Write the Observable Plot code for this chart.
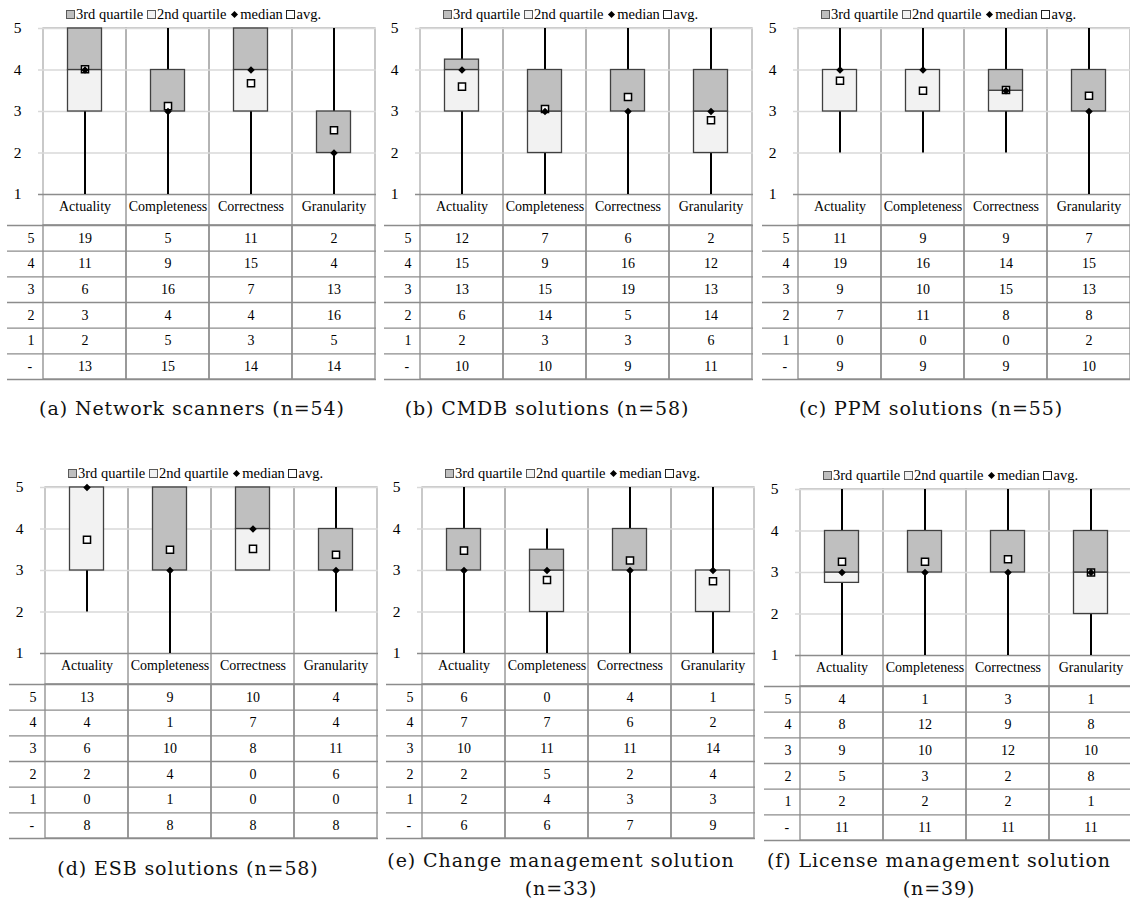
<!DOCTYPE html>
<html>
<head>
<meta charset="utf-8">
<script src="https://cdn.jsdelivr.net/npm/d3@7"></script>
<script src="https://cdn.jsdelivr.net/npm/@observablehq/plot@0.6"></script>
<style>
  html, body { margin: 0; padding: 0; background: #fff; }
  #page { position: relative; width: 1130px; height: 913px; overflow: hidden; font-family: "Liberation Serif", "Times New Roman", serif; color: #000; }
  .panel { position: absolute; width: 380px; height: 450px; }
  .panel svg { position: absolute; overflow: visible; }
  .legend { position: absolute; left: 66px; top: 5px; font-size: 14.5px; line-height: 18px; white-space: nowrap; }
  .sw { display: inline-block; width: 7px; height: 7px; border: 1px solid #595959; vertical-align: 0px; margin-right: 1px; }
  .dm { display: inline-block; width: 5px; height: 5px; background: #000; transform: rotate(45deg); vertical-align: 2px; margin: 0 3px 0 2px; }
  .caption { position: absolute; font-family: "DejaVu Serif", serif; font-size: 19px; letter-spacing: 0.9px; line-height: 28px; text-align: center; white-space: nowrap; transform: translateX(-50%); color: #111; }
</style>
</head>
<body>
<div id="page"></div>
<script>
// ---------- data ----------
const categories = ["Actuality", "Completeness", "Correctness", "Granularity"];
const ratingRows = ["5", "4", "3", "2", "1", "-"];
const yTicks = [1, 2, 3, 4, 5];
const panelCaptions = [
  ["(a) Network scanners (n=54)"],
  ["(b) CMDB solutions (n=58)"],
  ["(c) PPM solutions (n=55)"],
  ["(d) ESB solutions (n=58)"],
  ["(e) Change management solution", "(n=33)"],
  ["(f) License management solution", "(n=39)"]
];
// per panel (a..f), per category
const whiskerMin = [
  [1, 1, 1, 1],
  [1, 1, 1, 1],
  [2, 2, 2, 1],
  [2, 1, 3, 2],
  [1, 1, 1, 1],
  [1, 1, 1, 1]
];
const quartile1 = [
  [3, 3, 3, 2],
  [3, 2, 3, 2],
  [3, 3, 3, 3],
  [3, 3, 3, 3],
  [3, 2, 3, 2],
  [2.75, 3, 3, 2]
];
const median = [
  [4, 3, 4, 2],
  [4, 3, 3, 3],
  [4, 4, 3.5, 3],
  [5, 3, 4, 3],
  [3, 3, 3, 3],
  [3, 3, 3, 3]
];
const quartile3 = [
  [5, 4, 5, 3],
  [4.25, 4, 4, 4],
  [4, 4, 4, 4],
  [5, 5, 5, 4],
  [4, 3.5, 4, 3],
  [4, 4, 4, 4]
];
const whiskerMax = [
  [5, 5, 5, 5],
  [5, 5, 5, 5],
  [5, 5, 5, 5],
  [5, 5, 5, 5],
  [5, 4, 5, 5],
  [5, 5, 5, 5]
];
const average = [
  [4.02, 3.13, 3.68, 2.55],
  [3.60, 3.06, 3.35, 2.79],
  [3.74, 3.50, 3.52, 3.38],
  [3.74, 3.50, 3.52, 3.38],
  [3.48, 2.77, 3.24, 2.74],
  [3.26, 3.26, 3.32, 3.00]
];
// answer counts: per panel, rows 5,4,3,2,1,- ; columns = categories
const answerCounts = [
  [[19, 5, 11, 2], [11, 9, 15, 4], [6, 16, 7, 13], [3, 4, 4, 16], [2, 5, 3, 5], [13, 15, 14, 14]],
  [[12, 7, 6, 2], [15, 9, 16, 12], [13, 15, 19, 13], [6, 14, 5, 14], [2, 3, 3, 6], [10, 10, 9, 11]],
  [[11, 9, 9, 7], [19, 16, 14, 15], [9, 10, 15, 13], [7, 11, 8, 8], [0, 0, 0, 2], [9, 9, 9, 10]],
  [[13, 9, 10, 4], [4, 1, 7, 4], [6, 10, 8, 11], [2, 4, 0, 6], [0, 1, 0, 0], [8, 8, 8, 8]],
  [[6, 0, 4, 1], [7, 7, 6, 2], [10, 11, 11, 14], [2, 5, 2, 4], [2, 4, 3, 3], [6, 6, 7, 9]],
  [[4, 1, 3, 1], [8, 12, 9, 8], [9, 10, 12, 10], [5, 3, 2, 8], [2, 2, 2, 1], [11, 11, 11, 11]]
];

// ---------- layout ----------
const layout = [
  {x: 0, y: 0, cx: 192, cy: 394},
  {x: 377, y: 0, cx: 170, cy: 394},
  {x: 755, y: 0, cx: 176, cy: 394},
  {x: 2, y: 459, cx: 186, cy: 395},
  {x: 379, y: 459, cx: 182, cy: 387},
  {x: 757, y: 461, cx: 182, cy: 385}
];
const FONT = "'Liberation Serif', 'Times New Roman', serif";
const LINE = "#8c8c8c";

function boxChart(p) {
  const stats = categories.map((c, j) => ({
    cat: c, min: whiskerMin[p][j], q1: quartile1[p][j], med: median[p][j],
    q3: quartile3[p][j], max: whiskerMax[p][j], avg: average[p][j]
  }));
  return Plot.plot({
    width: 378, height: 208,
    marginLeft: 42, marginRight: 2, marginTop: 10, marginBottom: 32,
    style: {fontFamily: FONT, background: "transparent", color: "#000"},
    x: {type: "band", domain: categories, padding: 0, axis: null},
    y: {domain: [1, 5], axis: null},
    marks: [
      Plot.cell(categories, {x: d => d, fill: "none", stroke: "#a6a6a6", strokeWidth: 1.2, insetBottom: -31}),
      Plot.ruleY(yTicks.slice(1), {stroke: "#d9d9d9", strokeWidth: 1.4, insetLeft: -4}),
      Plot.ruleY([1], {stroke: LINE, strokeWidth: 1.5, insetLeft: -4}),
      Plot.text(yTicks, {y: d => d, frameAnchor: "left", dx: -25, text: d => String(d), fontSize: 15.5, textAnchor: "middle"}),
      Plot.text(categories, {x: d => d, frameAnchor: "bottom", dy: 16, text: d => d, fontSize: 14}),
      Plot.ruleX(stats, {x: "cat", y1: "min", y2: "max", stroke: "#000", strokeWidth: 2}),
      Plot.barY(stats, {x: "cat", y1: "q1", y2: "med", fill: "#f2f2f2", stroke: "#404040", strokeWidth: 1.3, insetLeft: 24.5, insetRight: 24.5}),
      Plot.barY(stats, {x: "cat", y1: "med", y2: "q3", fill: "#bfbfbf", stroke: "#404040", strokeWidth: 1.3, insetLeft: 24.5, insetRight: 24.5}),
      Plot.dot(stats, {x: "cat", y: "avg", symbol: "square", r: 4, fill: "#fff", stroke: "#000", strokeWidth: 1.5}),
      Plot.dot(stats, {x: "cat", y: "med", symbol: "diamond2", r: 3.4, fill: "#000", stroke: "none"})
    ]
  });
}

function countTable(p) {
  const cells = [];
  ratingRows.forEach((r, i) => categories.forEach((c, j) => cells.push({row: r, cat: c, count: answerCounts[p][i][j]})));
  const rowPos = r => ratingRows.indexOf(r) + 0.5;
  const edges = [0, ...ratingRows.map((r, i) => i + 1)];
  return Plot.plot({
    width: 378, height: 157,
    marginLeft: 42, marginRight: 2, marginTop: 1, marginBottom: 2,
    style: {fontFamily: FONT, background: "transparent", color: "#000"},
    x: {type: "band", domain: categories, padding: 0, axis: null},
    y: {domain: [0, ratingRows.length], reverse: true, axis: null},
    marks: [
      Plot.cell(categories, {x: d => d, fill: "none", stroke: LINE, strokeWidth: 1.3}),
      Plot.ruleY(edges, {stroke: LINE, strokeWidth: 1.4, insetLeft: -35}),
      Plot.text(ratingRows, {y: rowPos, frameAnchor: "left", dx: -15, text: d => d, fontSize: 14}),
      Plot.text(cells, {x: "cat", y: d => rowPos(d.row), text: "count", fontSize: 14})
    ]
  });
}

const page = document.getElementById("page");
layout.forEach((L, p) => {
  const panel = document.createElement("div");
  panel.className = "panel";
  panel.style.left = L.x + "px";
  panel.style.top = L.y + "px";

  const legend = document.createElement("div");
  legend.className = "legend";
  legend.innerHTML =
    '<span class="sw" style="background:#bfbfbf"></span>3rd quartile ' +
    '<span class="sw" style="background:#f2f2f2"></span>2nd quartile ' +
    '<span class="dm"></span>median ' +
    '<span class="sw" style="background:#fff;border-color:#222"></span>avg.';
  panel.appendChild(legend);

  const c = boxChart(p);
  c.style.left = "0px"; c.style.top = "18px";
  panel.appendChild(c);

  const t = countTable(p);
  t.style.left = "0px"; t.style.top = "224px";
  panel.appendChild(t);

  const cap = document.createElement("div");
  cap.className = "caption";
  cap.style.left = L.cx + "px";
  cap.style.top = L.cy + "px";
  cap.innerHTML = panelCaptions[p].join("<br>");
  panel.appendChild(cap);

  page.appendChild(panel);
});
</script>
</body>
</html>
